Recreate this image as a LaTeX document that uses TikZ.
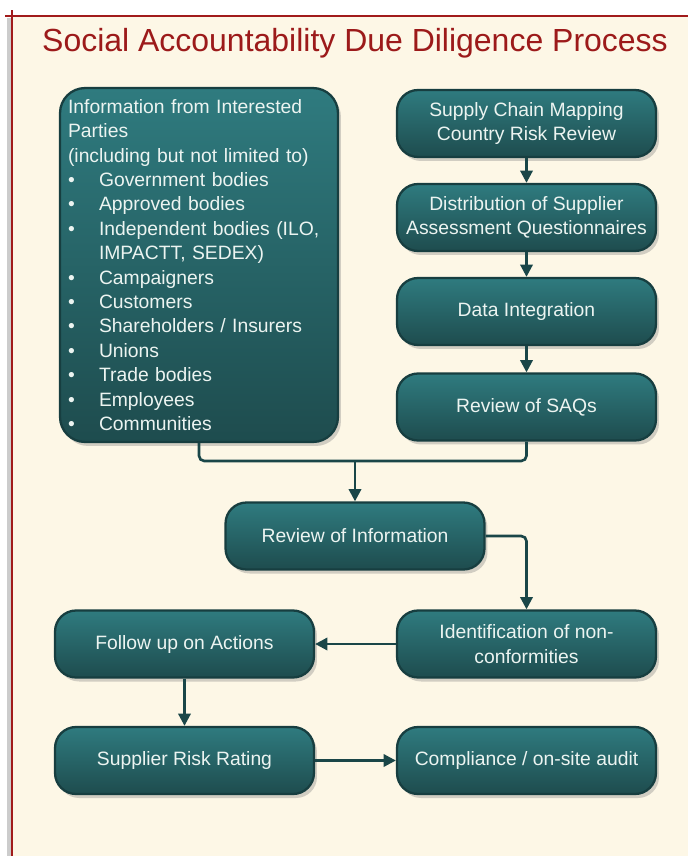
\documentclass[tikz,border=0pt]{standalone}
\usepackage{fontspec}
\setmainfont{Liberation Sans}
\usetikzlibrary{arrows.meta,shadows}

\definecolor{cream}{HTML}{FDF7E6}
\definecolor{titlered}{HTML}{9C1A1A}
\definecolor{framered}{HTML}{A11B1B}
\definecolor{tealtop}{HTML}{2F7B7F}
\definecolor{tealbot}{HTML}{1E4C4E}
\definecolor{tealedge}{HTML}{173E40}
\definecolor{boxtext}{HTML}{ECF4F1}
\definecolor{linkline}{HTML}{1A4648}

\newcommand{\bul}{\makebox[0.62cm][l]{\textbullet}}

\begin{document}
\begin{tikzpicture}[x=0.02cm, y=-0.02cm,
  stepbox/.style={rectangle, rounded corners=0.42cm, draw=tealedge, line width=1.3pt,
    top color=tealtop, bottom color=tealbot, text=boxtext, align=center,
    font=\fontsize{11}{13.9}\selectfont, minimum width=5.18cm, minimum height=1.34cm,
    inner sep=2pt, drop shadow={shadow xshift=0.06cm, shadow yshift=-0.08cm, opacity=0.35}},
  link/.style={draw=linkline, line width=1.5pt, -{Triangle[length=7pt, width=7pt]}},
  joinline/.style={draw=linkline, line width=1.5pt, rounded corners=3pt}]

\useasboundingbox (0,0) rectangle (688,856);

% page frame
\fill[white] (0,0) rectangle (688,856);
\fill[cream] (12,16) rectangle (688,856);
\draw[black!20, line width=2pt] (9,18) -- (9,856);
\draw[framered, line width=1.5pt] (5,16) -- (688,16);
\draw[framered, line width=1.5pt] (12,10) -- (12,856);

\node[text=titlered, font=\fontsize{18.2}{22}\selectfont, anchor=base] (title) at (355,51)
  {Social Accountability Due Diligence Process};

% boxes
\node[stepbox, minimum width=5.56cm, minimum height=7.08cm, text width=5.24cm,
  align=left, rounded corners=0.5cm] (info) at (199,265)
  {Information from Interested\\
   Parties\\
   (including but not limited to)\\
   \bul Government bodies\\
   \bul Approved bodies\\
   \bul Independent bodies (ILO,\\
   \hspace*{0.62cm}IMPACTT, SEDEX)\\
   \bul Campaigners\\
   \bul Customers\\
   \bul Shareholders / Insurers\\
   \bul Unions\\
   \bul Trade bodies\\
   \bul Employees\\
   \bul Communities};

\node[stepbox] (sc) at (526.5,123.5) {Supply Chain Mapping\\Country Risk Review};
\node[stepbox] (dist) at (526.5,217.5) {Distribution of Supplier\\Assessment Questionnaires};
\node[stepbox] (data) at (526.5,311.5) {Data Integration};
\node[stepbox] (saq) at (526.5,407) {Review of SAQs};
\node[stepbox] (revinfo) at (355,536) {Review of Information};
\node[stepbox] (ident) at (526.5,644) {Identification of non-\\conformities};
\node[stepbox] (follow) at (184.5,644) {Follow up on Actions};
\node[stepbox] (srr) at (184.5,760.5) {Supplier Risk Rating};
\node[stepbox] (comp) at (526.5,760.5) {Compliance / on-site audit};

% connectors
\coordinate (join) at (355,461);

\draw[link] (sc) -- (dist);
\draw[link] (dist) -- (data);
\draw[link] (data) -- (saq);
\draw[joinline] (info.south) |- (join) -| (saq.south);
\draw[link] (join) -- (revinfo);
\draw[link, rounded corners=3pt] (revinfo.east) -| (ident.north);
\draw[link] (ident) -- (follow);
\draw[link] (follow) -- (srr);
\draw[link] (srr) -- (comp);

\end{tikzpicture}
\end{document}
